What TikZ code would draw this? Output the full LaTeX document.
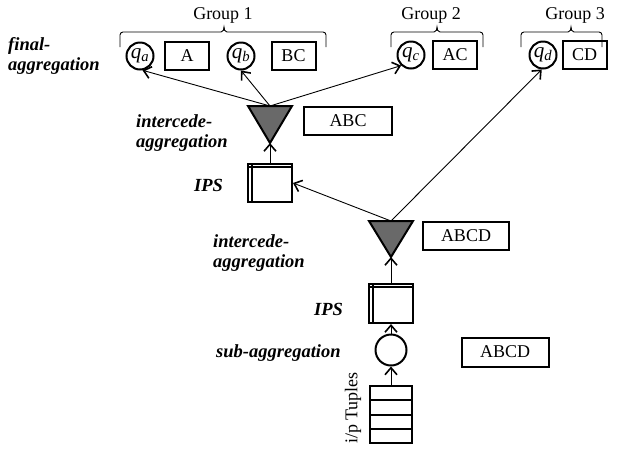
\documentclass[tikz,border=0pt]{standalone}
\usepackage{fontspec}
\setmainfont{Liberation Serif}
\usetikzlibrary{arrows.meta,calc}
\definecolor{trigray}{RGB}{105,105,105}
\newcommand\grpbrace[3]{\draw[grp] (#1,47) -- (#1,35) to[out=90,in=180] (#1+3,32) -- (#3-3,32) to[out=0,in=-90] (#3,27) to[out=-90,in=180] (#3+3,32) -- (#2-3,32) to[out=0,in=90] (#2,35) -- (#2,47);}
\begin{document}
\begin{tikzpicture}[x=1pt,y=-1pt,
  lbl/.style={font=\fontsize{18.5}{20}\selectfont\bfseries\itshape, inner sep=0pt, anchor=west, align=left},
  txt/.style={font=\fontsize{18}{20}\selectfont, inner sep=0pt},
  qbox/.style={draw, line width=2pt, minimum width=44pt, minimum height=28pt, inner sep=0pt, font=\fontsize{18}{20}\selectfont},
  qcirc/.style={draw, circle, line width=2pt, minimum size=27pt, inner sep=0pt, font=\fontsize{21}{22}\selectfont},
  ipsbox/.style={draw, line width=2pt, minimum width=44pt, minimum height=38pt, inner sep=0pt},
  inner/.style={line width=1.4pt},
  tri/.style={draw, line width=2pt, fill=trigray, line join=miter},
  conn/.style={line width=0.9pt, -{Straight Barb[length=7pt,width=12pt,line width=1.6pt]}},
  grp/.style={line width=0.9pt},
]
\useasboundingbox (0,0) rectangle (620,451);

% groups
\node[txt] (g1) at (223,15) {Group 1};
\node[txt] (g2) at (431,15) {Group 2};
\node[txt] (g3) at (575,15) {Group 3};
\grpbrace{120}{326}{224}
\grpbrace{391}{483}{437}
\grpbrace{521}{602}{571}

% final aggregation row
\node[qcirc] (qa) at (140,56) {\textit{q}\textsubscript{\textit{a}}};
\node[qbox] (A) at (187,56) {A};
\node[qcirc] (qb) at (241,56) {\textit{q}\textsubscript{\textit{b}}};
\node[qbox] (BC) at (293.5,55.5) {BC};
\node[qcirc] (qc) at (411,55) {\textit{q}\textsubscript{\textit{c}}};
\node[qbox] (AC) at (455,55) {AC};
\node[qcirc] (qd) at (543,55) {\textit{q}\textsubscript{\textit{d}}};
\node[qbox] (CD) at (584.5,55) {CD};

% triangles
\coordinate (t1) at (270,106);
\coordinate (t1a) at (270,143);
\draw[tri] (248,106) -- (292,106) -- (t1a) -- cycle;
\coordinate (t2) at (391,221);
\coordinate (t2a) at (391,257);
\draw[tri] (369,221) -- (413,221) -- (t2a) -- cycle;

\node[qbox, minimum width=88pt] (abc) at (348,121) {ABC};
\node[qbox, minimum width=86pt] (abcd1) at (466,236) {ABCD};
\node[qbox, minimum width=87pt, minimum height=29pt] (abcd2) at (505,352) {ABCD};

% IPS boxes
\node[ipsbox] (ips1) at (270,183) {};
\draw[inner] ([yshift=-4pt]ips1.north west) -- ([yshift=-4pt]ips1.north east);
\draw[inner] ([xshift=5pt]ips1.north west) -- ([xshift=5pt]ips1.south west);
\node[ipsbox, minimum height=39pt] (ips2) at (391,303.5) {};
\draw[inner] ([yshift=-4pt]ips2.north west) -- ([yshift=-4pt]ips2.north east);
\draw[inner] ([xshift=5pt]ips2.north west) -- ([xshift=5pt]ips2.south west);

% sub-aggregation circle and queue
\node[qcirc, minimum size=31pt] (sub) at (391,350) {};
\node[draw, line width=2pt, minimum width=42pt, minimum height=57pt, inner sep=0pt] (queue) at (391,414.5) {};
\foreach \f in {0.25,0.5,0.75}{
  \draw[line width=2pt] ($(queue.north west)!\f!(queue.south west)$) -- ($(queue.north east)!\f!(queue.south east)$);
}
\node[txt, rotate=90] (iptxt) at (353,408) {i/p Tuples};

% connectors
\draw[conn] (ips1.north) -- (t1a);
\draw[conn] (t1) -- (qa.-80);
\draw[conn] (t1) -- (qb.south);
\draw[conn] (t1) -- (qc.227);
\draw[conn] (t2) -- (ips1.east);
\draw[conn] (t2) -- (qd.-95);
\draw[conn] (ips2.north) -- (t2a);
\draw[conn] (sub.north) -- (ips2.south);
\draw[conn] (queue.north) -- (sub.south);

% labels
\node[lbl] (lfinal) at (8,56) {final-\\aggregation};
\node[lbl] (linter1) at (136,133.5) {intercede-\\aggregation};
\node[lbl] (linter2) at (213,253.5) {intercede-\\aggregation};
\node[lbl, anchor=center] (lips1) at (208.5,185.5) {IPS};
\node[lbl, anchor=center] (lips2) at (328.5,309) {IPS};
\node[lbl] (lsub) at (216,353) {sub-aggregation};
\end{tikzpicture}
\end{document}
